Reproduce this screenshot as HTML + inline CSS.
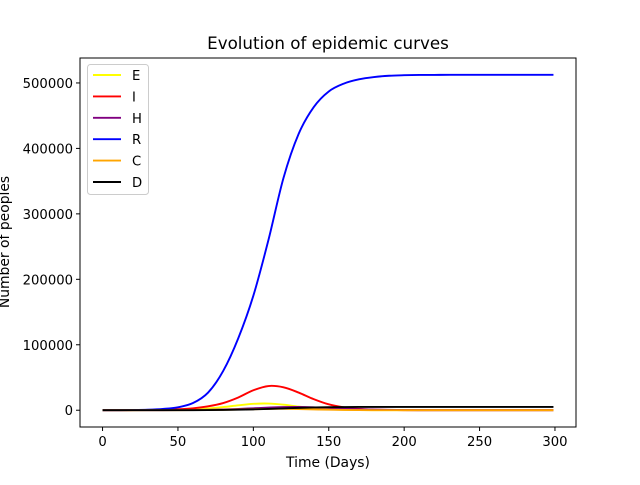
<!DOCTYPE html>
<html><head><meta charset="utf-8"><style>
body{margin:0;background:#fff}
svg{font-family:"DejaVu Sans","Liberation Sans",sans-serif}
</style></head><body>
<svg id="chart" width="640" height="480">
<rect width="640" height="480" fill="#fff"/>
<text x="328" y="49" font-size="16.7" text-anchor="middle">Evolution of epidemic curves</text>
<g id="plot"></g>
<rect x="80" y="58" width="496" height="369" fill="none" stroke="#000" stroke-width="1"/>
<g id="xt"></g>
<g id="yt"></g>
<text x="328" y="467" font-size="13.9" text-anchor="middle">Time (Days)</text>
<text transform="translate(9,242) rotate(-90)" font-size="13.9" text-anchor="middle">Number of peoples</text>
<g id="legend"></g>
</svg>
<script>
const days = [0,10,20,30,40,50,60,70,80,90,100,110,120,130,140,150,160,170,180,190,200,210,220,230,240,250,260,270,280,290,299];
const seriesNames = ["E","I","H","R","C","D"];
const seriesColors = ["yellow","red","purple","blue","orange","black"];
const E = [0,50,100,200,400,800,1500,2800,4800,7500,9800,10200,8500,5500,3000,1400,600,250,100,50,20,0,0,0,0,0,0,0,0,0,0];
const I = [0,100,200,400,800,1500,3000,6000,11000,19500,30500,37000,35000,27000,17000,9000,4500,2000,900,400,150,50,0,0,0,0,0,0,0,0,0];
const H = [0,0,0,50,100,200,400,700,1200,2000,3000,4000,4800,5000,4500,3500,2500,1600,1000,600,300,150,80,40,20,10,0,0,0,0,0];
const R = [0,100,300,800,2000,4500,11000,27000,60000,110000,175000,260000,355000,422000,463000,487000,499000,505500,509000,511000,511800,512200,512300,512400,512400,512500,512500,512500,512500,512500,512500];
const C = [0,0,0,20,50,100,200,400,700,1100,1600,2000,2100,1800,1300,800,450,250,120,60,30,10,0,0,0,0,0,0,0,0,0];
const D = [0,0,0,10,30,60,120,250,450,800,1300,2000,2800,3600,4200,4600,4850,5000,5050,5080,5100,5100,5100,5100,5100,5100,5100,5100,5100,5100,5100];
const xTicks = [0,50,100,150,200,250,300];
const yTicks = [0,100000,200000,300000,400000,500000];

const X0=80,X1=576,Y0=427,Y1=58;
const xMin=-14.95,xMax=313.95,yMin=-25625,yMax=538125;
function sx(v){return X0+(v-xMin)/(xMax-xMin)*(X1-X0);}
function sy(v){return Y0-(v-yMin)/(yMax-yMin)*(Y0-Y1);}
const NS="http://www.w3.org/2000/svg";
function mk(t,a,p){const e=document.createElementNS(NS,t);for(const k in a)e.setAttribute(k,a[k]);p.appendChild(e);return e;}
function path(vals){
  const pts=days.map((d,i)=>[sx(d),sy(vals[i])]);
  let s="M"+pts[0][0]+","+pts[0][1];
  for(let i=0;i<pts.length-1;i++){
    const p0=pts[Math.max(0,i-1)],p1=pts[i],p2=pts[i+1],p3=pts[Math.min(pts.length-1,i+2)];
    const c1=[p1[0]+(p2[0]-p0[0])/6,p1[1]+(p2[1]-p0[1])/6];
    const c2=[p2[0]-(p3[0]-p1[0])/6,p2[1]-(p3[1]-p1[1])/6];
    s+=" C"+c1+" "+c2+" "+p2;
  }
  return s;
}
const plot=document.getElementById('plot');
const data=[E,I,H,R,C,D];
data.forEach((vals,k)=>{
  const p=mk('path',{d:path(vals),fill:'none',stroke:seriesColors[k],'stroke-width':1.9},plot);
  
  
});
const xt=document.getElementById('xt');
xTicks.forEach(v=>{
  const l=mk('line',{x1:sx(v),x2:sx(v),y1:427,y2:431,stroke:'#000'},xt);
  
  
  const t=mk('text',{x:sx(v),y:446,'font-size':13.2,'text-anchor':'middle'},xt);
  t.textContent=v;
  
  
});
const yt=document.getElementById('yt');
yTicks.forEach(v=>{
  const l=mk('line',{x1:76,x2:80,y1:sy(v),y2:sy(v),stroke:'#000'},yt);
  
  
  const t=mk('text',{x:73,y:sy(v)+5,'font-size':13.2,'text-anchor':'end'},yt);
  t.textContent=v;
  
  
});
const lg=document.getElementById('legend');
const box=mk('rect',{x:87.5,y:64.5,width:61,height:130,rx:3,fill:'#fff','fill-opacity':0.8,stroke:'#ccc'},lg);


seriesNames.forEach((n,k)=>{
  const y=75+k*21.4;
  const l=mk('line',{x1:93,x2:121,y1:y,y2:y,stroke:seriesColors[k],'stroke-width':1.9},lg);
  
  
  const t=mk('text',{x:132,y:y+5,'font-size':13.2},lg);
  t.textContent=n;
  
  
});
</script>
</body></html>
